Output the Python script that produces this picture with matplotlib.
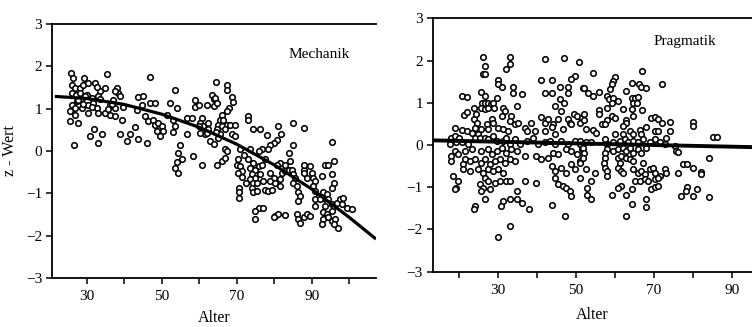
import matplotlib
matplotlib.use("Agg")
import matplotlib.pyplot as plt
from matplotlib.ticker import FixedLocator, NullFormatter

# ---------------- data ----------------
mech_age = [
    25.8, 26.4, 26.0, 26.9, 26.0, 27.1, 28.2, 29.4, 29.1, 30.4,
    32.2, 35.3, 34.9, 33.5, 33.1, 31.3, 30.0, 28.7, 27.3, 26.0,
    26.9, 25.5, 26.9, 28.7, 30.4, 31.8, 32.7, 30.4, 33.1, 34.9,
    36.2, 37.6, 38.0, 38.4, 38.9, 37.1, 36.2, 37.6, 39.3, 39.8,
    25.5, 27.6, 26.7, 30.9, 32.0, 34.0, 33.1, 38.9, 40.7, 41.6,
    42.9, 43.8, 46.0, 43.6, 45.1, 46.9, 43.3, 44.7, 45.5, 46.9,
    48.2, 46.4, 47.8, 48.2, 49.1, 50.0, 48.7, 50.4, 49.5, 52.2,
    53.5, 54.0, 53.1, 53.5, 53.1, 56.7, 56.7, 54.9, 58.0, 58.9,
    58.9, 59.8, 60.7, 60.2, 62.0, 61.1, 62.4, 61.5, 63.3, 54.2,
    32.7, 28.2, 29.6, 33.6, 36.7, 37.6, 62.9, 63.8, 60.2, 62.0,
    59.8, 62.4, 63.8, 63.8, 51.3, 27.8, 29.0, 31.5, 35.6, 55.3,
    53.6, 54.4, 58.4, 54.0, 64.4, 67.5, 67.3, 64.2, 64.7, 68.8,
    69.1, 67.8, 67.3, 66.0, 65.4, 66.4, 65.1, 66.0, 67.3, 68.2,
    69.5, 66.9, 64.7, 65.6, 73.1, 73.1, 74.3, 76.2, 78.0, 81.1,
    81.8, 85.1, 87.8, 68.7, 69.5, 80.7, 79.8, 78.9, 78.4, 76.7,
    76.0, 85.1, 95.3, 83.8, 73.6, 70.9, 66.9, 67.5, 64.5, 65.0,
    66.0, 64.7, 66.9, 60.7, 70.4, 70.0, 70.9, 71.3, 70.4, 73.1,
    74.4, 73.6, 74.9, 75.8, 76.7, 74.0, 74.9, 73.6, 74.4, 75.3,
    74.0, 70.7, 70.7, 70.7, 74.4, 75.3, 77.6, 78.4, 79.3, 75.8,
    77.1, 74.9, 74.9, 80.2, 81.1, 82.9, 79.8, 78.9, 79.8, 78.9,
    80.2, 81.6, 81.6, 82.0, 82.9, 83.8, 81.6, 80.7, 82.9, 84.7,
    85.1, 85.5, 85.1, 86.0, 86.4, 86.9, 86.4, 86.0, 86.4, 86.9,
    87.8, 88.7, 89.6, 87.8, 87.8, 88.7, 90.0, 90.4, 90.9, 90.4,
    90.9, 91.8, 90.9, 90.9, 92.7, 93.6, 94.4, 95.8, 95.3, 95.8,
    95.3, 93.1, 94.0, 93.1, 94.4, 92.2, 94.0, 93.6, 95.3, 95.8,
    96.7, 97.6, 98.4, 98.0, 99.3, 100.7, 93.1, 94.0, 93.1, 92.7,
    94.4, 95.3, 96.2, 97.1, 95.8, 95.3, 84.2, 87.8, 89.6, 72.0,
    77.5, 71.5, 72.5, 76.2, 77.0,
]
mech_z = [
    1.84, 1.72, 1.56, 1.49, 1.37, 1.33, 1.49, 1.72, 1.56, 1.60,
    1.60, 1.82, 1.49, 1.41, 1.29, 1.25, 1.33, 1.25, 1.17, 1.09,
    1.02, 0.94, 0.86, 1.02, 1.09, 1.13, 1.02, 0.90, 0.90, 0.90,
    0.86, 0.82, 1.49, 1.37, 1.29, 1.21, 1.09, 1.02, 0.74, 1.05,
    0.70, 0.65, 0.15, 0.36, 0.51, 0.41, 0.19, 0.39, 0.23, 0.39,
    0.56, 0.29, 0.19, 1.27, 1.30, 1.74, 0.98, 1.09, 0.82, 1.13,
    1.13, 0.70, 0.74, 0.62, 0.66, 0.58, 0.47, 0.47, 0.35, 1.13,
    1.45, 1.02, 0.74, 0.58, 0.45, 0.78, 0.39, 0.15, 0.78, 1.21,
    1.05, 1.09, 0.78, 0.66, 1.09, 0.58, 0.51, 0.39, 1.33, -0.04,
    1.51, 1.37, 1.29, 1.22, 1.10, 1.41, 0.24, 0.16, 0.43, 0.43,
    0.59, 0.67, 1.22, 1.06, 0.86, 1.20, 1.12, 1.05, 1.00, -0.18,
    -0.39, -0.51, -0.12, -0.25, 1.62, 1.56, 1.45, 1.25, 1.13, 1.27,
    1.16, 1.02, 0.94, 0.86, 0.74, 0.74, 0.62, 0.58, 0.62, 0.62,
    0.62, 0.51, 0.51, 0.39, 0.82, 0.74, 0.51, 0.51, 0.37, 0.60,
    0.39, 0.66, 0.55, 0.39, 0.35, 0.27, 0.19, 0.15, 0.04, 0.04,
    0.00, 0.14, 0.22, -0.04, 0.04, 0.04, 0.04, 0.00, 0.45, 0.30,
    -0.24, -0.34, -0.16, -0.32, -0.20, -0.32, -0.36, -0.48, -0.51, -0.20,
    -0.28, -0.40, -0.44, -0.36, -0.32, -0.55, -0.63, -0.67, -0.75, -0.75,
    -0.87, -0.87, -0.98, -1.10, -0.98, -0.94, -0.91, -0.94, -0.91, -1.34,
    -1.34, -1.42, -1.61, -1.53, -1.49, -1.52, -1.57, -0.51, -0.63, -0.71,
    -0.75, -0.67, -0.83, -0.51, -0.48, -0.44, -0.28, -0.32, -0.32, -0.44,
    -0.55, -0.63, -0.75, -0.83, -0.98, -1.06, -1.18, -1.49, -1.61, -1.69,
    -1.57, -1.49, -1.53, -0.44, -0.51, -0.63, -0.51, -0.63, -0.71, -0.83,
    -0.94, -1.06, -1.14, -1.30, -0.59, -0.32, -0.32, -0.24, -0.55, -0.75,
    -0.87, -0.98, -1.02, -1.10, -1.14, -1.14, -1.22, -1.30, -1.26, -1.30,
    -1.22, -1.14, -1.10, -1.26, -1.34, -1.38, -1.45, -1.49, -1.61, -1.73,
    -1.57, -1.65, -1.61, -1.81, -1.73, -1.42, -0.24, -0.32, -0.36, -0.10,
    -0.20, -0.62, -0.75, -0.55, -0.70,
]
mech_fit_age = [21.5, 30, 40, 50, 60, 70, 80, 90, 100, 107.1]
mech_fit_z = [1.29, 1.24, 1.10, 0.87, 0.56, 0.16, -0.33, -0.90, -1.57, -2.08]

prag_age = [
    26.1, 33.1, 42.1, 47.0, 50.8, 33.1, 26.8, 32.0, 26.1, 26.8,
    49.7, 48.9, 30.1, 41.0, 43.8, 30.1, 31.0, 33.8, 45.9, 47.9,
    51.9, 33.9, 36.1, 42.1, 43.9, 48.0, 25.8, 26.7, 20.9, 22.0,
    29.7, 45.9, 47.0, 26.0, 26.7, 27.5, 28.2, 28.8, 25.8, 26.7,
    27.5, 29.1, 23.9, 31.4, 31.8, 34.8, 44.6, 46.3, 49.6, 50.4,
    21.3, 22.1, 23.9, 24.7, 24.5, 27.1, 28.4, 28.8, 31.0, 33.5,
    33.1, 34.4, 35.2, 41.2, 42.1, 42.9, 44.2, 45.5, 48.0, 48.5,
    48.9, 51.5, 19.0, 20.7, 22.0, 23.3, 24.1, 25.0, 25.8, 27.5,
    30.1, 31.4, 32.7, 36.9, 38.6, 37.4, 39.5, 42.1, 43.8, 44.6,
    46.8, 39.1, 37.4, 18.1, 19.0, 20.0, 17.7, 19.4, 20.7, 22.4,
    24.1, 25.4, 26.7, 27.5, 28.8, 29.7, 31.4, 32.2, 33.1, 34.4,
    35.6, 40.3, 42.1, 43.3, 44.6, 46.3, 48.0, 49.7, 51.0, 19.0,
    18.1, 19.8, 21.5, 23.3, 25.8, 27.5, 28.4, 29.7, 31.0, 32.2,
    33.5, 34.8, 36.9, 39.9, 41.2, 42.9, 44.2, 45.5, 47.6, 48.9,
    50.2, 51.5, 18.1, 21.5, 21.1, 22.8, 24.1, 25.8, 26.7, 28.0,
    29.2, 30.5, 31.8, 33.1, 34.4, 18.5, 21.1, 22.8, 25.0, 26.2,
    27.5, 28.8, 30.1, 31.4, 43.8, 44.6, 46.3, 47.6, 48.9, 49.7,
    51.0, 19.8, 19.4, 19.0, 26.7, 27.5, 25.4, 26.2, 29.2, 30.5,
    32.2, 33.1, 36.9, 39.9, 44.6, 45.5, 46.8, 47.6, 48.5, 48.9,
    28.0, 25.8, 34.8, 26.7, 24.1, 23.9, 31.4, 33.1, 34.8, 36.2,
    30.9, 38.0, 43.8, 47.2, 33.1, 30.1,
    54.3, 67.1, 60.0, 59.6, 59.2, 64.3, 66.2, 66.8, 68.1, 72.0,
    52.1, 53.2, 54.3, 56.0, 58.9, 57.9, 58.6, 59.6, 59.2, 60.9,
    63.0, 64.3, 65.1, 66.0, 64.7, 65.6, 62.0, 57.9, 64.3, 67.1,
    56.0, 56.0, 52.1, 59.2, 60.0, 58.0, 63.0, 64.7, 69.4, 70.3,
    71.1, 72.0, 74.1, 80.1, 80.1, 51.0, 52.1, 56.8, 57.4, 54.4,
    55.3, 52.7, 60.0, 63.0, 62.0, 62.1, 63.9, 64.7, 66.4, 68.1,
    70.3, 71.1, 74.1, 73.1, 70.3, 66.8, 67.3, 85.2, 86.1, 84.2,
    51.0, 52.7, 54.0, 57.4, 57.9, 59.6, 61.3, 62.6, 63.4, 64.7,
    66.0, 69.0, 71.5, 72.8, 75.4, 75.8, 76.2, 57.9, 57.4, 59.6,
    60.9, 62.1, 63.0, 63.9, 64.7, 66.0, 66.8, 68.1, 51.9, 52.1,
    51.9, 51.0, 57.4, 57.2, 60.9, 61.7, 63.0, 63.9, 64.7, 61.3,
    57.4, 57.9, 57.9, 52.7, 54.9, 51.0, 60.9, 61.7, 62.1, 64.7,
    66.0, 67.3, 66.8, 67.7, 69.0, 69.8, 70.3, 71.5, 72.8, 73.1,
    76.2, 77.5, 78.5, 80.1, 82.0, 82.2, 65.1, 66.4, 67.7, 68.6,
    70.3, 71.1, 54.0, 52.9, 61.7, 60.9, 64.3, 69.4, 70.3, 71.1,
    78.4, 78.2, 81.1, 52.9, 54.0, 59.2, 63.0, 77.1, 80.1, 84.2,
    68.1, 68.1, 64.3, 63.0,
]
prag_z = [
    2.09, 2.09, 2.03, 2.07, 1.97, 1.91, 1.86, 1.79, 1.69, 1.69,
    1.64, 1.56, 1.53, 1.53, 1.53, 1.45, 1.37, 1.37, 1.37, 1.37,
    1.36, 1.22, 1.20, 1.22, 1.22, 1.24, 1.26, 1.16, 1.15, 1.14,
    1.12, 1.08, 1.00, 1.00, 1.00, 1.00, 0.96, 1.00, 0.88, 0.85,
    0.88, 0.88, 0.87, 0.88, 0.81, 0.92, 0.92, 0.81, 0.74, 0.69,
    0.71, 0.77, 0.61, 0.53, 0.73, 0.50, 0.61, 0.53, 0.69, 0.69,
    0.57, 0.49, 0.53, 0.66, 0.53, 0.61, 0.49, 0.61, 0.61, 0.53,
    0.49, 0.65, 0.40, 0.35, 0.32, 0.29, 0.41, 0.27, 0.37, 0.37,
    0.41, 0.37, 0.33, 0.40, 0.53, 0.32, 0.32, 0.32, 0.43, 0.27,
    0.37, 0.17, 0.10, 0.17, 0.21, 0.16, 0.02, 0.06, 0.06, 0.02,
    0.17, 0.17, 0.17, 0.14, 0.21, 0.09, 0.09, 0.17, 0.02, 0.14,
    0.02, 0.02, 0.06, 0.09, 0.02, 0.09, 0.02, 0.09, 0.02, -0.14,
    -0.26, -0.22, -0.14, -0.10, -0.14, -0.10, -0.22, -0.14, -0.06, -0.18,
    -0.10, -0.14, -0.26, -0.26, -0.34, -0.30, -0.18, -0.22, -0.10, -0.14,
    -0.22, -0.10, -0.38, -0.34, -0.46, -0.38, -0.34, -0.42, -0.34, -0.46,
    -0.38, -0.34, -0.42, -0.34, -0.38, -0.73, -0.58, -0.62, -0.58, -0.66,
    -0.58, -0.62, -0.58, -0.66, -0.50, -0.62, -0.54, -0.66, -0.46, -0.58,
    -0.38, -0.85, -1.01, -1.05, -0.77, -0.85, -0.93, -1.01, -0.89, -0.85,
    -0.85, -0.85, -0.85, -0.89, -0.77, -0.93, -0.97, -1.01, -1.09, -1.21,
    -1.03, -1.09, -1.09, -1.29, -1.45, -1.52, -1.33, -1.29, -1.29, -1.37,
    -1.45, -1.52, -1.41, -1.68, -1.92, -2.19,
    1.71, 1.75, 1.60, 1.52, 1.44, 1.46, 1.45, 1.38, 1.34, 1.44,
    1.36, 1.24, 1.16, 1.26, 1.32, 1.16, 1.08, 1.12, 1.00, 1.04,
    1.28, 1.12, 1.12, 1.14, 1.00, 1.00, 0.85, 0.88, 0.85, 0.82,
    0.82, 0.73, 0.74, 0.69, 0.63, 0.59, 0.59, 0.69, 0.65, 0.66,
    0.61, 0.53, 0.55, 0.55, 0.45, 0.53, 0.59, 0.49, 0.49, 0.35,
    0.29, 0.37, 0.27, 0.53, 0.45, 0.27, 0.33, 0.25, 0.35, 0.43,
    0.32, 0.32, 0.32, 0.17, 0.14, 0.25, 0.14, 0.19, 0.19, -0.30,
    0.09, 0.06, 0.06, 0.14, 0.02, 0.06, 0.09, 0.14, 0.06, 0.09,
    0.06, 0.06, 0.06, 0.02, -0.02, -0.14, -0.16, -0.10, -0.20, -0.14,
    -0.10, -0.06, -0.14, -0.06, -0.18, -0.10, -0.18, -0.06, -0.06, -0.18,
    -0.30, -0.42, -0.30, -0.42, -0.30, -0.26, -0.30, -0.34, -0.38, -0.42,
    -0.54, -0.62, -0.73, -0.58, -0.66, -0.77, -0.54, -0.62, -0.66, -0.58,
    -0.66, -0.42, -0.62, -0.69, -0.58, -0.54, -0.66, -0.73, -0.58, -0.66,
    -0.66, -0.46, -0.44, -0.54, -0.63, -0.69, -0.85, -0.85, -0.81, -0.85,
    -0.81, -0.77, -0.85, -1.01, -0.97, -1.01, -1.03, -1.05, -0.99, -0.97,
    -0.99, -1.09, -1.03, -1.18, -1.29, -1.18, -1.18, -1.21, -1.21, -1.23,
    -1.29, -1.47, -1.39, -1.68,
]
prag_fit_age = [13.3, 95.2]
prag_fit_z = [0.11, -0.05]

# ---------------- style ----------------
plt.rcParams['font.family'] = ['Liberation Serif', 'DejaVu Serif']
fig = plt.figure(figsize=(7.52, 3.27), dpi=100)

ax1 = fig.add_axes([52/752, 1-278/327, (376-52)/752, (278-24)/327])
ax2 = fig.add_axes([432.7/752, 1-271.7/327, (752-432.7)/752, (271.7-18.3)/327])

def style(ax, xlim, major, minor, lpad):
    ax.set_xlim(*xlim)
    ax.set_ylim(-3, 3)
    ax.spines['right'].set_visible(False)
    for s in ('left', 'top', 'bottom'):
        ax.spines[s].set_linewidth(1.3)
    ax.xaxis.set_major_locator(FixedLocator(major))
    ax.xaxis.set_minor_locator(FixedLocator(minor))
    ax.xaxis.set_minor_formatter(NullFormatter())
    ax.set_yticks([-3, -2, -1, 0, 1, 2, 3])
    ax.tick_params(which='both', direction='out', length=4, width=1.1,
                   labelsize=11, top=False, right=False)
    ax.tick_params(axis='x', pad=5)
    ax.tick_params(axis='y', pad=3)
    ax.set_xlabel('Alter', fontsize=11.5, labelpad=lpad)

style(ax1, (20.75, 107.1), [30, 50, 70, 90], [40, 60, 80, 100], 5)
style(ax2, (13.3, 95.2), [30, 50, 70, 90], [20, 40, 60, 80], 7)

mk = dict(s=16, facecolors='white', edgecolors='black', linewidths=1.15, zorder=2)
ax1.scatter(mech_age, mech_z, **mk)
ax2.scatter(prag_age, prag_z, **mk)
ax1.plot(mech_fit_age, mech_fit_z, color='black', lw=2.3, zorder=3, solid_capstyle='butt')
ax2.plot(prag_fit_age, prag_fit_z, color='black', lw=2.8, zorder=3, solid_capstyle='butt')

ax1.text(92, 2.27, 'Mechanik', ha='center', va='center', fontsize=11)
ax2.text(78, 2.46, 'Pragmatik', ha='center', va='center', fontsize=11)
ax1.set_ylabel('z - Wert', fontsize=11.5, labelpad=6)

fig.savefig('out.png', dpi=100)
